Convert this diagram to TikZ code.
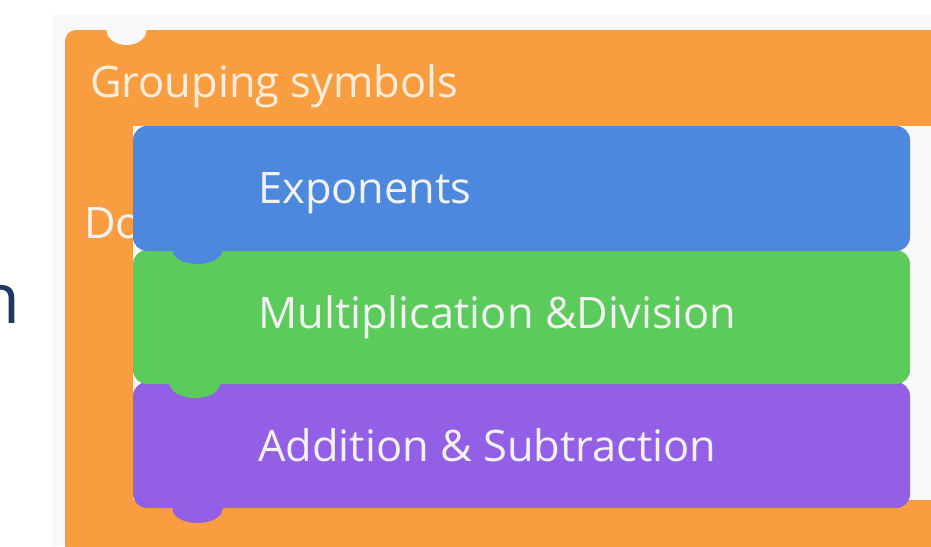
\documentclass[tikz,border=0pt]{standalone}
\usepackage{fontspec}
\setmainfont{Open Sans}
\definecolor{panel}{HTML}{F8F8F8}
\definecolor{blockorange}{HTML}{F99D41}
\definecolor{blockblue}{HTML}{4C88DE}
\definecolor{blockgreen}{HTML}{5BCB5B}
\definecolor{blockpurple}{HTML}{925FE6}
\definecolor{navy}{HTML}{1F3864}
\definecolor{labelwhite}{HTML}{F2F2F2}
\tikzset{
  blocktext/.style={anchor=base west, inner sep=0pt, text=labelwhite, font=\fontsize{43.4}{50}\selectfont},
  stackblock/.style={rounded corners=14pt},
}
% connector tab hanging below a block: colour, centre x, top y, bottom y
\newcommand{\blocktab}[4]{%
  \fill[#1] (#2-25,#3) rectangle (#2+25,#4-14);
  \fill[#1] (#2,#4-14) ellipse [x radius=25pt, y radius=14pt];}
\begin{document}
\begin{tikzpicture}[x=1pt,y=-1pt]
  \useasboundingbox (0,0) rectangle (931,546);
  \clip (0,0) rectangle (931,546);
  % page background
  \fill[white] (0,0) rectangle (931,546);
  \node[anchor=base east, inner sep=0pt, text=navy, font=\fontsize{70}{80}\selectfont] (cut) at (21,323) {n};
  % editor panel
  \fill[panel] (52,15) rectangle (931,546);
  % outer C-shaped block
  \fill[blockorange, rounded corners=11pt] (65,560) -- (65,30) -- (950,30) -- (950,560) -- cycle;
  \fill[panel] (133,126) rectangle (931,500);
  % notch in the top edge
  \fill[panel] (126.5,30) ellipse [x radius=20pt, y radius=15pt];
  \fill[panel] (106.5,15) rectangle (146.5,30);
  \node[blocktext, text=white, text opacity=0.82] (group) at (90,97) {Grouping symbols};
  \node[blocktext] (doo) at (84,238) {Do};
  % stacked inner blocks, bottom to top so each tab lies over the next block
  \blocktab{blockpurple}{197.5}{495}{523}
  \fill[blockpurple, stackblock] (133,382) rectangle (910,508);
  \blocktab{blockgreen}{195}{370}{398}
  \fill[blockgreen, stackblock] (133,250) rectangle (910,384);
  \blocktab{blockblue}{197.5}{240}{264}
  \fill[blockblue, stackblock] (133,126) rectangle (910,251);
  \node[blocktext] (exp) at (258,203) {Exponents};
  \node[blocktext] (mul) at (258,328) {Multiplication \&Division};
  \node[blocktext] (add) at (258,461) {Addition \& Subtraction};
\end{tikzpicture}
\end{document}
